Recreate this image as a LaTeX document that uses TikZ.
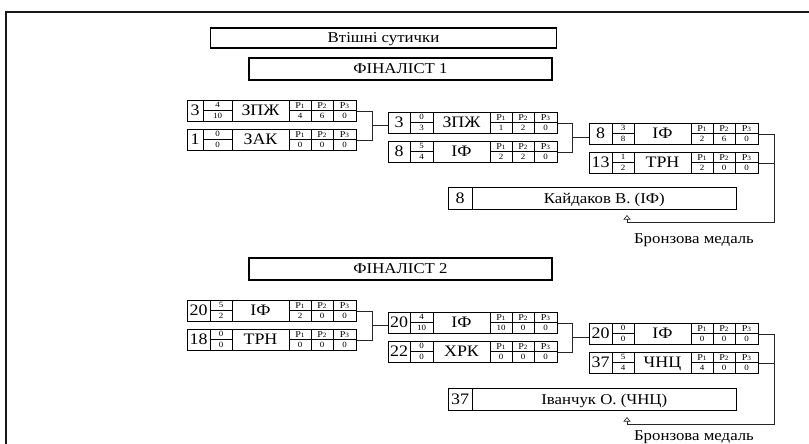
\documentclass[tikz,border=0pt]{standalone}
\usepackage{fontspec}
\setmainfont[FakeStretch=1.12]{Liberation Serif}
\usetikzlibrary{arrows.meta,calc}
\newcommand{\fsz}[1]{\fontsize{#1}{#1}\selectfont}
\newcommand{\plab}[1]{\fsz{9}P\fsz{6.5}#1}
% #1 name, #2 x, #3 y, #4 number-cell width, #5 number, #6 frac top, #7 frac bottom, #8 team
\newcommand{\matchrow}[8]{%
  \begin{scope}[shift={(#2,#3)}]
    \node[rowbox, anchor=north west] (#1) at (0,0) {};
    \draw[cell] (#4,0) -- (#4,21) (45,0) -- (45,21) (102,0) -- (102,21)
                (124,0) -- (124,21) (146,0) -- (146,21);
    \draw[cell] (#4,10.5) -- (45,10.5) (102,10.5) -- (169,10.5);
    \node[numtxt] (#1-n) at ({#4/2},10.5) {#5};
    \node[smalltxt] (#1-ft) at ({(#4+45)/2},5.25) {#6};
    \node[smalltxt] (#1-fb) at ({(#4+45)/2},15.75) {#7};
    \node[numtxt] (#1-t) at (73.5,10.5) {#8};
    \node[ptxt] (#1-p1) at (113,5.4) {\plab{1}};
    \node[ptxt] (#1-p2) at (135,5.4) {\plab{2}};
    \node[ptxt] (#1-p3) at (157.5,5.4) {\plab{3}};
  \end{scope}}
% #1 name, #2 #3 #4 scores
\newcommand{\matchscores}[4]{%
  \begin{scope}[shift={(#1.north west)}]
    \node[smalltxt] (#1-s1) at (113,15.75) {#2};
    \node[smalltxt] (#1-s2) at (135,15.75) {#3};
    \node[smalltxt] (#1-s3) at (157.5,15.75) {#4};
  \end{scope}}
% #1 name, #2 y top, #3 number, #4 text
\newcommand{\finalbox}[4]{%
  \node[finbox, anchor=north west] (#1) at (448,#2) {};
  \draw[cell] ($(#1.north west)+(24,0)$) -- ($(#1.south west)+(24,0)$);
  \node[numtxt] (#1-n) at ($(#1.west)+(12,0)$) {#3};
  \node[midtxt] (#1-t) at ($(#1.center)+(12,0)$) {#4};}
\begin{document}
\begin{tikzpicture}[x=1pt,y=-1pt,
  rowbox/.style={draw=black, line width=0.6pt, minimum width=169pt, minimum height=21pt, inner sep=0pt},
  finbox/.style={draw=black, line width=0.6pt, minimum width=288pt, minimum height=22pt, inner sep=0pt},
  cell/.style={draw=black, line width=0.6pt},
  conn/.style={draw=black!85, line width=0.6pt},
  headbox/.style={draw=black, line width=1.6pt, inner sep=0pt, font=\fsz{15}, text height=9.9pt, text depth=0pt},
  numtxt/.style={inner sep=0pt, font=\fsz{16}, text height=10.6pt, text depth=0pt},
  midtxt/.style={inner sep=0pt, font=\fsz{15}, text height=9.9pt, text depth=0pt},
  smalltxt/.style={inner sep=0pt, font=\fsz{8}, text height=5.3pt, text depth=0pt},
  ptxt/.style={inner sep=0pt, text height=6pt, text depth=0pt},
  bronze/.style={inner sep=0pt, font=\fsz{15}, text height=9.9pt, text depth=0pt},
  tipA/.style={-{Triangle[open, width=7pt, length=4.5pt]}}]
\useasboundingbox (0,0) rectangle (809,444);
\draw[line width=1.3pt, draw=black!90] (6,12) rectangle (830,470);

\node[headbox, minimum width=346pt, minimum height=20pt] (title) at (383.5,38) {Втішні сутички};

% ---------- Finalist 1 ----------
\node[headbox, minimum width=303pt, minimum height=22pt] (fin1) at (400.5,69) {ФІНАЛІСТ 1};

\matchrow{a1}{187}{100}{16}{3}{4}{10}{ЗПЖ}\matchscores{a1}{4}{6}{0}
\matchrow{a2}{187}{129}{16}{1}{0}{0}{ЗАК}\matchscores{a2}{0}{0}{0}
\matchrow{b1}{388}{112}{22}{3}{0}{3}{ЗПЖ}\matchscores{b1}{1}{2}{0}
\matchrow{b2}{388}{141}{22}{8}{5}{4}{ІФ}\matchscores{b2}{2}{2}{0}
\matchrow{c1}{589}{123}{23}{8}{3}{8}{ІФ}\matchscores{c1}{2}{6}{0}
\matchrow{c2}{589}{152}{23}{13}{1}{2}{ТРН}\matchscores{c2}{2}{0}{0}
\finalbox{f1}{187}{8}{Кайдаков В. (ІФ)}

\coordinate (j1) at ($(a1.east)!0.5!(a2.east)+(16,0)$);
\draw[conn] (a1.east) -| (j1) |- (a2.east);
\draw[conn] (j1) -- (j1 -| b1.west);
\coordinate (j2) at ($(b1.east)!0.5!(b2.east)+(15,0)$);
\draw[conn] (b1.east) -| (j2) |- (b2.east);
\draw[conn] (j2) -- (j2 -| c1.west);
\coordinate (v1) at (774,222);
\coordinate (m1) at (627,222);
\coordinate (t1) at (627,215);
\draw[conn, tipA] (c1.east) -| (v1) -- (m1) -- (t1);
\draw[conn] (c2.east) -- (c2.east -| v1);
\node[bronze] (br1) at (694,239) {Бронзова медаль};

% ---------- Finalist 2 ----------
\node[headbox, minimum width=303pt, minimum height=22pt] (fin2) at (400.5,269) {ФІНАЛІСТ 2};

\matchrow{d1}{187}{300}{23}{20}{5}{2}{ІФ}\matchscores{d1}{2}{0}{0}
\matchrow{d2}{187}{329}{23}{18}{0}{0}{ТРН}\matchscores{d2}{0}{0}{0}
\matchrow{e1}{388}{312}{22}{20}{4}{10}{ІФ}\matchscores{e1}{10}{0}{0}
\matchrow{e2}{388}{341}{22}{22}{0}{0}{ХРК}\matchscores{e2}{0}{0}{0}
\matchrow{g1}{589}{323}{23}{20}{0}{0}{ІФ}\matchscores{g1}{0}{0}{0}
\matchrow{g2}{589}{352}{23}{37}{5}{4}{ЧНЦ}\matchscores{g2}{4}{0}{0}
\finalbox{h1}{388}{37}{Іванчук О. (ЧНЦ)}

\coordinate (j3) at ($(d1.east)!0.5!(d2.east)+(16,0)$);
\draw[conn] (d1.east) -| (j3) |- (d2.east);
\draw[conn] (j3) -- (j3 -| e1.west);
\coordinate (j4) at ($(e1.east)!0.5!(e2.east)+(15,0)$);
\draw[conn] (e1.east) -| (j4) |- (e2.east);
\draw[conn] (j4) -- (j4 -| g1.west);
\coordinate (v2) at (774,424);
\coordinate (m2) at (627,424);
\coordinate (t2) at (627,417);
\draw[conn, tipA] (g1.east) -| (v2) -- (m2) -- (t2);
\draw[conn] (g2.east) -- (g2.east -| v2);
\node[bronze] (br2) at (694,436) {Бронзова медаль};
\end{tikzpicture}
\end{document}
